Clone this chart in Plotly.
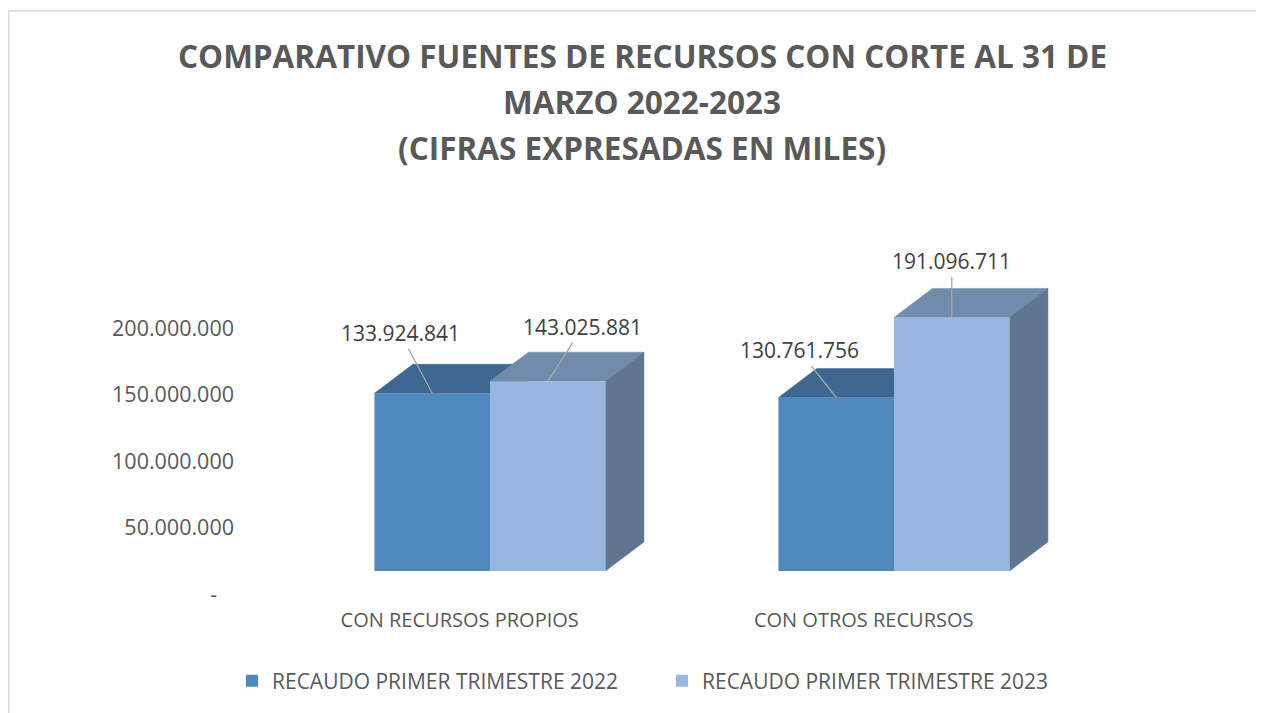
import plotly.graph_objects as go

# ---------------- data ----------------
categories = ["CON RECURSOS PROPIOS", "CON OTROS RECURSOS"]
series_names = ["RECAUDO PRIMER TRIMESTRE 2022", "RECAUDO PRIMER TRIMESTRE 2023"]
recaudo_2022 = [133924841, 130761756]
recaudo_2023 = [143025881, 191096711]
tick_values = [0, 50000000, 100000000, 150000000, 200000000]
tick_labels = ["-\u00a0\u00a0\u00a0", "50.000.000", "100.000.000", "150.000.000", "200.000.000"]
title_lines = [
    "COMPARATIVO FUENTES DE RECURSOS CON CORTE AL 31 DE",
    "MARZO 2022-2023",
    "(CIFRAS EXPRESADAS EN MILES)",
]

# ---------------- style / layout ----------------
OFF = 8  # page body margin
W, H = 1264 - OFF, 713 - OFF
ML = 288 - OFF
PLOT_W = 808
MR = W - ML - PLOT_W
MT = 230 - OFF
PLOT_H = 370
MB = H - MT - PLOT_H
XR = [-0.5, 1.5]
PX_PER_UNIT = 1.327e-6
Y0_PX_FROM_BOTTOM = 29
y_lo = -Y0_PX_FROM_BOTTOM / PX_PER_UNIT
y_hi = y_lo + PLOT_H / PX_PER_UNIT
YR = [y_lo, y_hi]

bar_w = 0.286
depth_dx = 0.095
depth_dy = 29 / PX_PER_UNIT

front_cols = ["#4F88BD", "#97B7E0"]
top_cols = ["#3D6790", "#718CAB"]
side_cols = ["#4A6785", "#5F7590"]
text_col = "#595959"
FONT = "Open Sans"


def px_x(p):  # reference page pixel -> paper x
    return (p - OFF - ML) / PLOT_W


def px_y(p):  # reference page pixel -> paper y
    return (MT + PLOT_H - (p - OFF)) / PLOT_H


fig = go.Figure()

series = [recaudo_2022, recaudo_2023]
offsets = [-bar_w, 0.0]

# back faces (top & side) on main axes
for s, vals in enumerate(series):
    for i, v in enumerate(vals):
        x0 = i + offsets[s]
        x1 = x0 + bar_w
        fig.add_trace(go.Scatter(
            x=[x0, x1, x1 + depth_dx, x0 + depth_dx, x0],
            y=[v, v, v + depth_dy, v + depth_dy, v],
            fill="toself", fillcolor=top_cols[s], mode="lines",
            line=dict(color=top_cols[s], width=0.5),
            showlegend=False, hoverinfo="skip"))
        fig.add_trace(go.Scatter(
            x=[x1, x1 + depth_dx, x1 + depth_dx, x1, x1],
            y=[0, depth_dy, v + depth_dy, v, 0],
            fill="toself", fillcolor=side_cols[s], mode="lines",
            line=dict(color=side_cols[s], width=0.5),
            showlegend=False, hoverinfo="skip"))

# front faces as bars on overlay axes
legend_ids = ["legend", "legend2"]
for s, vals in enumerate(series):
    fig.add_trace(go.Bar(
        x=list(range(len(categories))), y=vals, width=bar_w, offset=offsets[s],
        name=series_names[s], marker=dict(color=front_cols[s], line=dict(width=0)),
        xaxis="x2", yaxis="y2", legend=legend_ids[s]))

# data labels with leader lines
label_offsets = [[(-32, -60), (-37, -47)], [(35, -54), (0, -56)]]
for s, vals in enumerate(series):
    for i, v in enumerate(vals):
        ax, ay = label_offsets[s][i]
        fig.add_annotation(
            x=i + offsets[s] + bar_w / 2, y=v, xref="x", yref="y",
            text=f"{v:,}".replace(",", "."), showarrow=True, arrowhead=0,
            arrowwidth=1.3, arrowcolor="#A6A6A6", ax=ax, ay=ay, standoff=0,
            font=dict(family=FONT, size=21, color="#404040"))

# title lines
title_py = [56, 101, 147]
for t, py in zip(title_lines, title_py):
    fig.add_annotation(
        x=px_x(642), y=px_y(py), xref="paper", yref="paper",
        text=f"<b>{t}</b>", showarrow=False, xanchor="center", yanchor="middle",
        font=dict(family=FONT, size=31.5, color=text_col))

# chart border
fig.add_shape(type="rect", xref="paper", yref="paper",
              x0=px_x(OFF + 0.75), x1=px_x(1280),
              y0=px_y(730), y1=px_y(11),
              line=dict(color="#D9D9D9", width=1.5), fillcolor="rgba(0,0,0,0)", layer="below")

legend_common = dict(orientation="h", xref="container", yref="container",
                     xanchor="left", yanchor="middle", bgcolor="rgba(0,0,0,0)",
                     font=dict(family=FONT, size=21, color=text_col))
leg_y = (H - (681 - OFF)) / H

fig.update_layout(
    width=W, height=H,
    margin=dict(l=ML, r=MR, t=MT, b=MB),
    paper_bgcolor="white", plot_bgcolor="white",
    barmode="overlay",
    showlegend=True,
    legend=dict(x=(232 - OFF) / W, y=leg_y, **legend_common),
    legend2=dict(x=(662 - OFF) / W, y=leg_y, **legend_common),
    xaxis=dict(range=XR, showgrid=False, zeroline=False, showline=False,
               tickvals=[i - 0.075 for i in range(len(categories))], ticktext=categories,
               tickfont=dict(family=FONT, size=20, color=text_col), ticks="",
               ticklabelstandoff=6),
    yaxis=dict(range=YR, showgrid=False, zeroline=False, showline=False,
               tickvals=tick_values, ticktext=tick_labels, ticks="",
               ticklabelshift=23, ticklabelstandoff=53,
               tickfont=dict(family=FONT, size=21.5, color=text_col)),
    xaxis2=dict(range=XR, overlaying="x", anchor="y2", visible=False),
    yaxis2=dict(range=YR, overlaying="y", anchor="x2", visible=False),
    hovermode=False,
)

fig.write_html("out.html")
